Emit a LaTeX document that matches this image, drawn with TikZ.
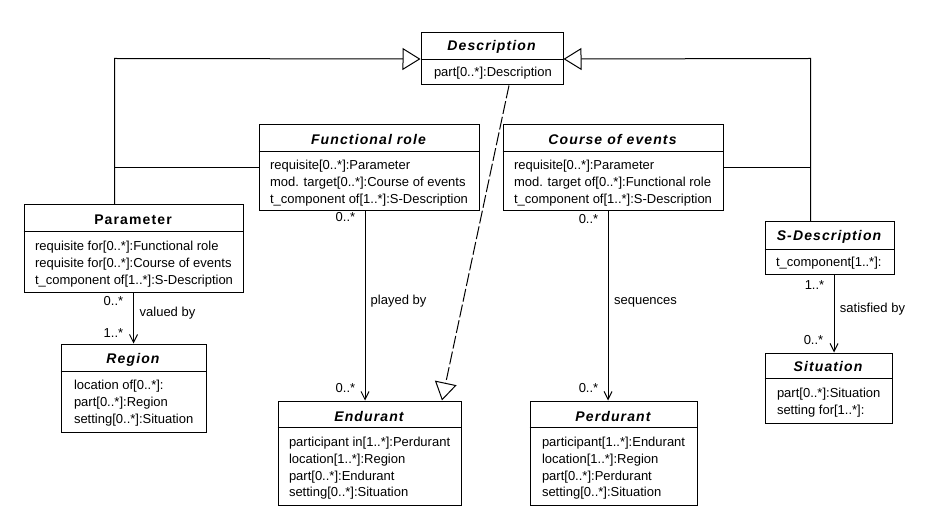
\documentclass[tikz,border=0pt]{standalone}
\usepackage{fontspec}
\setmainfont{Liberation Sans}
\usetikzlibrary{arrows.meta}
\begin{document}
\begin{tikzpicture}[x=1pt,y=-1pt, line width=1pt,
 cls/.style={draw, line width=1pt, inner sep=0pt, anchor=north west, fill=white},
 ttl/.style={font=\fontsize{14}{16}\selectfont\bfseries\itshape\addfontfeature{LetterSpace=8}, inner sep=0pt},
 ttlc/.style={font=\fontsize{14}{16}\selectfont\bfseries\addfontfeature{LetterSpace=8}, inner sep=0pt},
 attr/.style={font=\fontsize{13}{15}\selectfont, inner sep=0pt, anchor=west, text height=9pt, text depth=3pt},
 mult/.style={font=\fontsize{13}{15}\selectfont, inner sep=0pt, text height=9pt, text depth=3pt},
 gen/.style={-{Triangle[open,length=18pt,width=22pt]}},
 real/.style={gen, dash pattern=on 13pt off 3pt},
 assoc/.style={-{Straight Barb[length=8pt,width=8pt]}},
]
\useasboundingbox (0,0) rectangle (939,518);
\begin{scope}[shift={(0.5,0.5)}]
% Description
\node[cls, minimum width=142pt, minimum height=52pt] (desc) at (420,32) {};
\draw (420,59) -- (562,59);
\node[ttl] (descT) at (491,46) {Description};
\node[attr] (descA1) at (433,73) {part[0..*]:Description};

% Functional role
\node[cls, minimum width=220pt, minimum height=86pt] (func) at (258,124) {};
\draw (258,151) -- (478,151);
\node[ttl] (funcT) at (368,139) {Functional role};
\node[attr] (funcA1) at (269,166) {requisite[0..*]:Parameter};
\node[attr] (funcA2) at (269,183) {mod. target[0..*]:Course of events};
\node[attr] (funcA3) at (269,200) {t\_component of[1..*]:S-Description};

% Course of events
\node[cls, minimum width=220pt, minimum height=86pt] (course) at (502,124) {};
\draw (502,151) -- (722,151);
\node[ttl] (courseT) at (612,139) {Course of events};
\node[attr] (courseA1) at (513,166) {requisite[0..*]:Parameter};
\node[attr] (courseA2) at (513,183) {mod. target of[0..*]:Functional role};
\node[attr] (courseA3) at (513,200) {t\_component of[1..*]:S-Description};

% Parameter
\node[cls, minimum width=219pt, minimum height=88pt] (param) at (23,204) {};
\draw (23,231) -- (242,231);
\node[ttlc] (paramT) at (132.5,219) {Parameter};
\node[attr] (paramA1) at (34,247) {requisite for[0..*]:Functional role};
\node[attr] (paramA2) at (34,264) {requisite for[0..*]:Course of events};
\node[attr] (paramA3) at (34,281) {t\_component of[1..*]:S-Description};

% Region
\node[cls, minimum width=145pt, minimum height=88pt] (region) at (60,343) {};
\draw (60,371) -- (205,371);
\node[ttl] (regionT) at (132.5,359) {Region};
\node[attr] (regionA1) at (73,386) {location of[0..*]:};
\node[attr] (regionA2) at (73,403) {part[0..*]:Region};
\node[attr] (regionA3) at (73,420) {setting[0..*]:Situation};

% Endurant
\node[cls, minimum width=183pt, minimum height=104pt] (endu) at (277,400) {};
\draw (277,427) -- (460,427);
\node[ttl] (enduT) at (368.5,416) {Endurant};
\node[attr] (enduA1) at (288,443) {participant in[1..*]:Perdurant};
\node[attr] (enduA2) at (288,460) {location[1..*]:Region};
\node[attr] (enduA3) at (288,477) {part[0..*]:Endurant};
\node[attr] (enduA4) at (288,493) {setting[0..*]:Situation};

% Perdurant
\node[cls, minimum width=167pt, minimum height=104pt] (perd) at (529,400) {};
\draw (529,427) -- (696,427);
\node[ttl] (perdT) at (612.5,416) {Perdurant};
\node[attr] (perdA1) at (541,443) {participant[1..*]:Endurant};
\node[attr] (perdA2) at (541,460) {location[1..*]:Region};
\node[attr] (perdA3) at (541,477) {part[0..*]:Perdurant};
\node[attr] (perdA4) at (541,493) {setting[0..*]:Situation};

% S-Description
\node[cls, minimum width=129pt, minimum height=53pt] (sdesc) at (764,221) {};
\draw (764,249) -- (893,249);
\node[ttl] (sdescT) at (828.5,236) {S-Description};
\node[attr] (sdescA1) at (775,263) {t\_component[1..*]:};

% Situation
\node[cls, minimum width=127pt, minimum height=70pt] (sit) at (764,352) {};
\draw (764,378) -- (891,378);
\node[ttl] (sitT) at (827.5,366) {Situation};
\node[attr] (sitA1) at (776,394) {part[0..*]:Situation};
\node[attr] (sitA2) at (776,411) {setting for[1..*]:};

% generalisations
\coordinate (gL) at (114,58);
\coordinate (gR) at (810,58);
\draw[gen] (param.north -| gL) -- (gL) -- (desc.west);
\draw (func.west) -- (func.west -| gL);
\draw[gen] (sdesc.north -| gR) -- (gR) -- (desc.east);
\draw (course.east) -- (course.east -| gR);
\draw[real] ([xshift=17pt]desc.south) -- ([xshift=72.5pt]endu.north);

% associations
\draw[assoc] (param.south) -- (region.north);
\node[mult] (m1) at (113,302) {0..*};
\node[mult] (l1) at (167,313) {valued by};
\node[mult] (m2) at (113,334) {1..*};

\draw[assoc] ([xshift=-4pt]func.south) -- ([xshift=-4.5pt]endu.north);
\node[mult] (m3) at (345,218) {0..*};
\node[mult] (l2) at (398,301) {played by};
\node[mult] (m4) at (345,389) {0..*};

\draw[assoc] ([xshift=-5pt]course.south) -- ([xshift=-5.5pt]perd.north);
\node[mult] (m5) at (588,220) {0..*};
\node[mult] (l3) at (645,301) {sequences};
\node[mult] (m6) at (588,389) {0..*};

\draw[assoc] ([xshift=4.5pt]sdesc.south) -- ([xshift=5.5pt]sit.north);
\node[mult] (m7) at (814,286) {1..*};
\node[mult] (l4) at (872,309) {satisfied by};
\node[mult] (m8) at (813,341) {0..*};
\end{scope}
\end{tikzpicture}
\end{document}
